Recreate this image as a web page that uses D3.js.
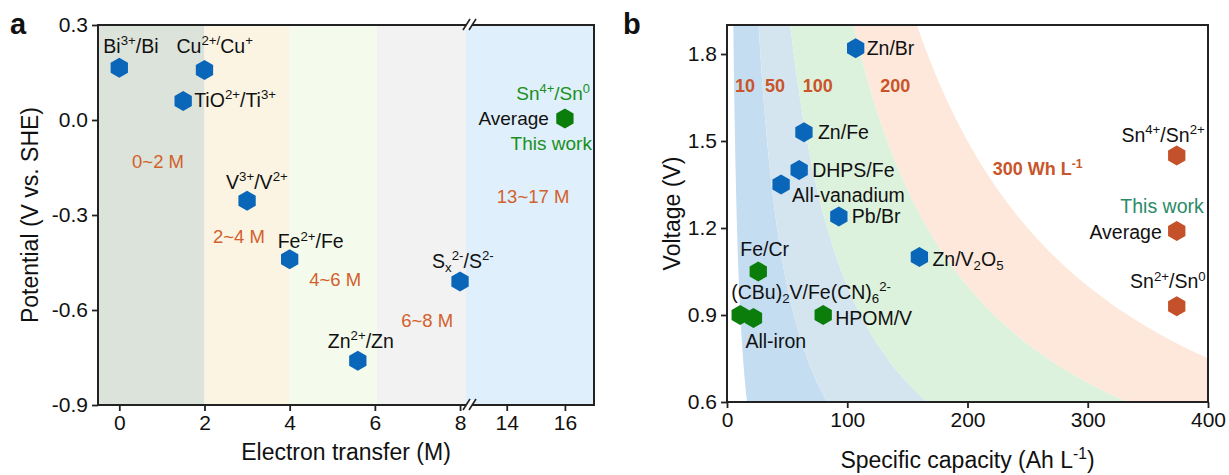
<!DOCTYPE html>
<html lang="en">
<head>
<meta charset="UTF-8">
<title>Redox potential and energy density</title>
<script src="https://d3js.org/d3.v7.min.js"></script>
<style>
  body { margin: 0; background: #fff; }
  svg text { font-family: "Liberation Sans", Arial, sans-serif; fill: #111; }
  .tick text { font-size: 21px; fill: #111; }
  .tick line { stroke: #222; stroke-width: 1.8px; }
  .frame { fill: none; stroke: #222; stroke-width: 2px; }
  .axis-title { font-size: 23px; }
  .band-label { fill: #d2612c; }
  .energy-label { font-weight: bold; fill: #c9552a; }
  .panel-letter { font-size: 29px; font-weight: bold; }
</style>
</head>
<body>
<svg width="1229" height="475"></svg>
<script>
// ---- panel a data ----
const coupleNames = ["Bi^{3+}/Bi", "Cu^{2+/}Cu^{+}", "TiO^{2+}/Ti^{3+}", "V^{3+}/V^{2+}", "Fe^{2+}/Fe", "Zn^{2+}/Zn", "S_{x}^{2-}/S^{2-}"];
const coupleElectrons = [0, 2, 1.5, 3, 4, 5.6, 8];
const couplePotential = [0.165, 0.158, 0.06, -0.255, -0.44, -0.76, -0.51];
const thisWorkElectrons = 16;
const thisWorkPotential = 0.005;
const rangeLabels = ["0~2 M", "2~4 M", "4~6 M", "6~8 M", "13~17 M"];
const rangeEdges = [-0.5, 2, 4, 6.05, 8.14];
const xTicksLeft = [0, 2, 4, 6, 8];
const xTicksRight = [14, 16];
const yTicksA = [-0.9, -0.6, -0.3, 0, 0.3];

// ---- panel b data ----
const blueNames = ["Zn/Br", "Zn/Fe", "DHPS/Fe", "All-vanadium", "Pb/Br", "Zn/V_{2}O_{5}"];
const blueCapacity = [107, 64, 60, 45, 93, 160];
const blueVoltage = [1.82, 1.53, 1.40, 1.35, 1.24, 1.10];
const greenNames = ["Fe/Cr", "(CBu)_{2}V/Fe(CN)_{6}^{2-}", "All-iron", "HPOM/V"];
const greenCapacity = [26, 11, 22, 80];
const greenVoltage = [1.05, 0.90, 0.89, 0.90];
const snNames = ["Sn^{4+}/Sn^{2+}", "Average", "Sn^{2+}/Sn^{0}"];
const snCapacity = [374, 374, 374];
const snVoltage = [1.45, 1.19, 0.93];
const energyLevels = [10, 50, 100, 200, 300];
const energyLabels = ["10", "50", "100", "200", "300 Wh L^{-1}"];
const xTicksB = [0, 100, 200, 300, 400];
const yTicksB = [0.6, 0.9, 1.2, 1.5, 1.8];

const svg = d3.select("svg");
const BLUE = "#0a66b8", GREEN = "#0b7d0b", ORANGE = "#c5512a";

function hexPath(r) {
  const pts = d3.range(6).map(i => {
    const a = Math.PI / 3 * i - Math.PI / 2;
    return [r * Math.cos(a), r * Math.sin(a)];
  });
  return "M" + pts.map(p => p[0].toFixed(2) + "," + p[1].toFixed(2)).join("L") + "Z";
}
const HEX = hexPath(10);

// text with ^{sup} and _{sub}
function richText(sel, str, fs) {
  const parts = str.split(/(\^\{[^}]*\}|_\{[^}]*\})/).filter(s => s.length);
  let shift = 0;
  sel.style("font-size", fs + "px");
  parts.forEach(p => {
    let target = 0, size = fs, txt = p;
    if (p.startsWith("^{")) { target = -0.4 * fs; size = 0.68 * fs; txt = p.slice(2, -1); }
    else if (p.startsWith("_{")) { target = 0.22 * fs; size = 0.68 * fs; txt = p.slice(2, -1); }
    sel.append("tspan").attr("dy", target - shift).style("font-size", size + "px").text(txt);
    shift = target;
  });
}

function label(g, x, y, str, fs, anchor, color, cls) {
  const t = g.append("text").attr("x", x).attr("y", y)
    .attr("text-anchor", anchor || "start");
  if (cls) t.attr("class", cls);
  if (color) t.style("fill", color);
  richText(t, str, fs);
  return t;
}

// ================= panel a =================
const aL = 98, aR = 594, aT = 25, aB = 405, aBreak = 466;
const xL = d3.scaleLinear().domain([-0.5, 8.14]).range([aL, aBreak]);
const xR = d3.scaleLinear().domain([12.6, 17]).range([aBreak, aR]);
const yA = d3.scaleLinear().domain([-0.9, 0.3]).range([aB, aT]);
const ga = svg.append("g");

const bandColorsA = ["#dce3da", "#fbf4e3", "#f4fbec", "#f2f2f2"];
for (let i = 0; i < rangeEdges.length - 1; i++) {
  ga.append("rect")
    .attr("x", xL(rangeEdges[i])).attr("y", aT)
    .attr("width", xL(rangeEdges[i + 1]) - xL(rangeEdges[i]))
    .attr("height", aB - aT).attr("fill", bandColorsA[i]);
}
ga.append("rect").attr("x", aBreak).attr("y", aT)
  .attr("width", aR - aBreak).attr("height", aB - aT).attr("fill", "#dff0fc");

// range labels (left-start, baseline, in data units)
const rangePos = [[0.3, -0.152], [2.2, -0.388], [4.46, -0.524], [6.62, -0.654]];
rangePos.forEach((p, i) => label(ga, xL(p[0]), yA(p[1]), rangeLabels[i], 18.5, "start", null, "band-label"));
label(ga, xR(13.66), yA(-0.262), rangeLabels[4], 18.5, "start", null, "band-label");

// axes
ga.append("g").attr("transform", `translate(0,${aB})`)
  .call(d3.axisBottom(xL).tickValues(xTicksLeft).tickFormat(d3.format("d")).tickSize(6).tickPadding(4))
  .call(g => g.select(".domain").remove());
ga.append("g").attr("transform", `translate(0,${aB})`)
  .call(d3.axisBottom(xR).tickValues(xTicksRight).tickFormat(d3.format("d")).tickSize(6).tickPadding(4))
  .call(g => g.select(".domain").remove());
ga.append("g").attr("transform", `translate(${aL},0)`)
  .call(d3.axisLeft(yA).tickValues(yTicksA).tickFormat(d => d.toFixed(1)).tickSize(6).tickPadding(4))
  .call(g => g.select(".domain").remove());
ga.append("rect").attr("class", "frame")
  .attr("x", aL).attr("y", aT).attr("width", aR - aL).attr("height", aB - aT);

// axis break marks
[aT, aB].forEach(y => {
  const bx = aBreak + 4;
  ga.append("path").attr("d", `M${bx - 7},${y + 5}L${bx - 1},${y - 5}L${bx + 5},${y - 5}L${bx - 1},${y + 5}Z`)
    .attr("fill", "#fff");
  [bx - 7, bx - 1].forEach(x0 => {
    ga.append("line").attr("x1", x0).attr("y1", y + 5).attr("x2", x0 + 7).attr("y2", y - 6)
      .attr("stroke", "#222").attr("stroke-width", 1.6);
  });
});

// couples
const coupleOffsets = [[-16, -15, "start"], [-28, -17, "start"], [11, 6, "start"], [-21, -12, "start"],
  [-12, -11, "start"], [-30, -13, "start"], [-28, -14, "start"]];
coupleNames.forEach((n, i) => {
  const px = xL(coupleElectrons[i]), py = yA(couplePotential[i]);
  ga.append("path").attr("d", HEX).attr("fill", BLUE).attr("transform", `translate(${px},${py})`);
  const o = coupleOffsets[i];
  label(ga, px + o[0], py + o[1], n, 19.5, o[2]);
});
{
  const px = xR(thisWorkElectrons), py = yA(thisWorkPotential);
  ga.append("path").attr("d", HEX).attr("fill", GREEN).attr("transform", `translate(${px},${py})`);
  label(ga, px + 25, py - 18, "Sn^{4+}/Sn^{0}", 19, "end", "#1b8f1b");
  label(ga, px - 16, py + 7, "Average", 19, "end");
  label(ga, px + 27, py + 32, "This work", 19, "end", "#1b8f1b");
}

ga.append("text").attr("class", "axis-title").attr("text-anchor", "middle")
  .attr("transform", `translate(38,${(aT + aB) / 2}) rotate(-90)`).text("Potential (V vs. SHE)");
ga.append("text").attr("class", "axis-title").attr("text-anchor", "middle")
  .attr("x", (aL + aR) / 2).attr("y", 460).text("Electron transfer (M)");
ga.append("text").attr("class", "panel-letter").attr("x", 10).attr("y", 34).text("a");

// ================= panel b =================
const bL = 727, bR = 1208, bT = 25, bB = 402;
const xB = d3.scaleLinear().domain([0, 400]).range([bL, bR]);
const yB = d3.scaleLinear().domain([0.6, 1.9]).range([bB, bT]);
const gb = svg.append("g");

gb.append("clipPath").attr("id", "clipB").append("rect")
  .attr("x", bL).attr("y", bT).attr("width", bR - bL).attr("height", bB - bT);

// iso-energy bands: E = capacity * voltage
const bandColorsB = ["#c5ddf1", "#d4e5f0", "#ddf2dc", "#fde8db"];
const vs = d3.range(0.5, 2.0001, 0.02);
const bandLine = d3.line().x(d => xB(d[0])).y(d => yB(d[1]));
for (let i = 0; i < energyLevels.length - 1; i++) {
  const e1 = energyLevels[i], e2 = energyLevels[i + 1];
  const pts = vs.map(v => [e1 / v, v]).concat(vs.slice().reverse().map(v => [e2 / v, v]));
  gb.append("path").attr("d", bandLine(pts) + "Z")
    .attr("fill", bandColorsB[i]).attr("clip-path", "url(#clipB)");
}

// energy labels (left-start, baseline, in data units)
const energyPos = [[6.7, 1.669], [31.7, 1.669], [63, 1.669], [127.5, 1.669], [221, 1.383]];
energyLabels.forEach((t, i) => label(gb, xB(energyPos[i][0]), yB(energyPos[i][1]), t, 18, "start", null, "energy-label"));

gb.append("g").attr("transform", `translate(0,${bB})`)
  .call(d3.axisBottom(xB).tickValues(xTicksB).tickSize(6).tickPadding(4))
  .call(g => g.select(".domain").remove());
gb.append("g").attr("transform", `translate(${bL},0)`)
  .call(d3.axisLeft(yB).tickValues(yTicksB).tickFormat(d => d.toFixed(1)).tickSize(6).tickPadding(4))
  .call(g => g.select(".domain").remove());
gb.append("rect").attr("class", "frame")
  .attr("x", bL).attr("y", bT).attr("width", bR - bL).attr("height", bB - bT);

const blueOffsets = [[11, 7], [14, 7], [13, 7], [11, 17], [13, 7], [13, 9]];
blueNames.forEach((n, i) => {
  const px = xB(blueCapacity[i]), py = yB(blueVoltage[i]);
  gb.append("path").attr("d", HEX).attr("fill", BLUE).attr("transform", `translate(${px},${py})`);
  label(gb, px + blueOffsets[i][0], py + blueOffsets[i][1], n, 19.5, "start");
});
const greenOffsets = [[-18, -16], [-9, -16], [-8, 30], [12, 10]];
greenNames.forEach((n, i) => {
  const px = xB(greenCapacity[i]), py = yB(greenVoltage[i]);
  gb.append("path").attr("d", HEX).attr("fill", GREEN).attr("transform", `translate(${px},${py})`);
  label(gb, px + greenOffsets[i][0], py + greenOffsets[i][1], n, 19.5, "start");
});
const snOffsets = [[28, -14], [-15, 8], [29, -18]];
snNames.forEach((n, i) => {
  const px = xB(snCapacity[i]), py = yB(snVoltage[i]);
  gb.append("path").attr("d", HEX).attr("fill", ORANGE).attr("transform", `translate(${px},${py})`);
  label(gb, px + snOffsets[i][0], py + snOffsets[i][1], n, 19.5, "end");
});
label(gb, xB(snCapacity[1]) + 27, yB(snVoltage[1]) - 18, "This work", 19.5, "end", "#2a8a68");

gb.append("text").attr("class", "axis-title").attr("text-anchor", "middle")
  .attr("transform", `translate(680,${(bT + bB) / 2}) rotate(-90)`).text("Voltage (V)");
label(gb, (bL + bR) / 2, 468, "Specific capacity (Ah L^{-1})", 23, "middle");
gb.append("text").attr("class", "panel-letter").attr("x", 623).attr("y", 34).text("b");
</script>
</body>
</html>
